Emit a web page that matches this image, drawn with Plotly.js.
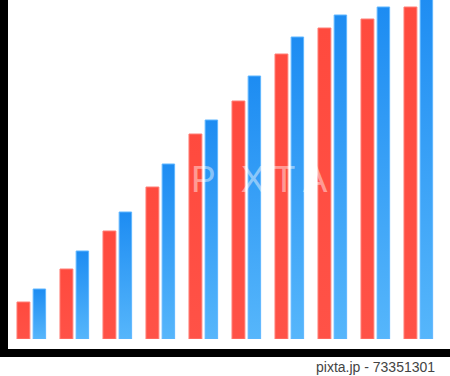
<!DOCTYPE html>
<html>
<head>
<meta charset="utf-8">
<script src="https://cdn.plot.ly/plotly-3.0.1.min.js"></script>
<style>
html,body{margin:0;padding:0;background:#fff;}
#chart{width:450px;height:376px;}
</style>
</head>
<body>
<div id="chart"></div>
<script>
// Data (arbitrary units)
const categories = [0, 1, 2, 3, 4, 5, 6, 7, 8, 9];
const redValues  = [37, 70, 108, 152, 205, 238, 285, 311, 320, 332];
const blueValues = [50, 88, 127, 175, 219, 263, 302, 324, 332, 350];
const footerText = "pixta.jp - 73351301";
const watermarkText = "P\u2009I\u2009X\u2009T\u2009A";

const red = {
  type: 'bar', x: categories, y: redValues,
  width: 0.30, offset: -0.326,
  marker: {color: '#ff4b40', line: {color: '#ff7f77', width: 1}},
  hoverinfo: 'none', name: 'red'
};
const blue = {
  type: 'bar', x: categories, y: blueValues,
  width: 0.29, offset: 0.05,
  marker: {color: '#2f9bf5', line: {color: '#5fb6ff', width: 1}},
  hoverinfo: 'none', name: 'blue'
};

const layout = {
  width: 450, height: 376,
  margin: {l: 0, r: 0, t: 0, b: 37, pad: 0},
  paper_bgcolor: '#ffffff', plot_bgcolor: '#ffffff',
  showlegend: false,
  barmode: 'overlay',
  xaxis: {range: [-0.7209, 9.744], showgrid: false, zeroline: false, showticklabels: false, ticks: '', showline: false, fixedrange: true},
  yaxis: {range: [0, 339], showgrid: false, zeroline: false, showticklabels: false, ticks: '', showline: false, fixedrange: true},
  shapes: [
    {type: 'rect', xref: 'paper', yref: 'paper', x0: 0, x1: 8/450, y0: -0.0531, y1: 1, fillcolor: '#000', line: {width: 0}, layer: 'above'},
    {type: 'rect', xref: 'paper', yref: 'paper', x0: 0, x1: 1, y0: -0.0531, y1: -0.0295, fillcolor: '#000', line: {width: 0}, layer: 'above'}
  ],
  annotations: [
    {text: footerText, xref: 'paper', yref: 'paper', x: 437/450, y: -0.0826, xanchor: 'right', yanchor: 'middle', showarrow: false,
     font: {family: 'Liberation Sans, Arial, sans-serif', size: 14, color: '#444444'}},
    {text: watermarkText, xref: 'paper', yref: 'paper', x: 259/450, y: (339-180)/339, xanchor: 'center', yanchor: 'middle', showarrow: false,
     font: {family: 'Liberation Sans, Arial, sans-serif', size: 37, color: 'rgba(255,255,255,0.45)'}}
  ]
};

Plotly.newPlot('chart', [red, blue], layout, {staticPlot: true, displayModeBar: false}).then(function(gd){
  const svg = gd.querySelector('svg.main-svg');
  const ns = 'http://www.w3.org/2000/svg';
  let defs = svg.querySelector('defs');
  if (!defs) { defs = document.createElementNS(ns, 'defs'); svg.insertBefore(defs, svg.firstChild); }
  function grad(id, c1, c2){
    const g = document.createElementNS(ns, 'linearGradient');
    g.setAttribute('id', id); g.setAttribute('x1', '0'); g.setAttribute('y1', '0'); g.setAttribute('x2', '0'); g.setAttribute('y2', '1');
    [[0, c1], [1, c2]].forEach(function(s){
      const st = document.createElementNS(ns, 'stop');
      st.setAttribute('offset', s[0]); st.setAttribute('stop-color', s[1]);
      g.appendChild(st);
    });
    defs.appendChild(g);
  }
  grad('gBlue', '#1d8cf2', '#56b6fb');
  grad('gRed', '#ff4a3e', '#ff5247');
  const traces = gd.querySelectorAll('.barlayer .trace');
  traces.forEach(function(t, i){
    t.querySelectorAll('path').forEach(function(p){
      p.style.fill = i === 0 ? 'url(#gRed)' : 'url(#gBlue)';
      p.style.fillOpacity = 1;
    });
  });
});
</script>
</body>
</html>
